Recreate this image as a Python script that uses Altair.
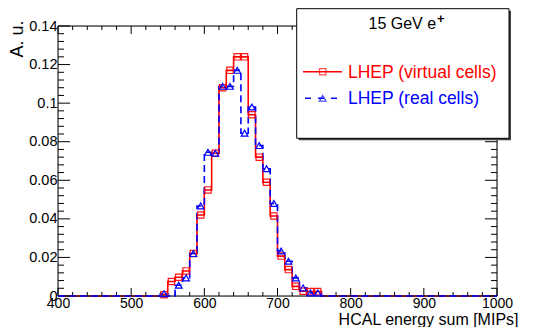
import altair as alt
import pandas as pd

# ---------------- data ----------------
bin_lo = list(range(400, 1000, 10))      # histogram bins, width 10 MIPs
x_last = 1000

red_bins = [540, 550, 560, 570, 580, 590, 600, 610, 620, 630, 640,
            650, 660, 670, 680, 690, 700, 710, 720, 730, 740, 750]
red_vals = [0.0007, 0.0075, 0.0097, 0.013, 0.022, 0.042, 0.055, 0.074, 0.108, 0.117, 0.124,
            0.124, 0.094, 0.072, 0.059, 0.0415, 0.0207, 0.0137, 0.005, 0.0025, 0.0023, 0.0023]

blue_bins = [540, 550, 560, 570, 580, 590, 600, 610, 620, 630, 640,
             650, 660, 670, 680, 690, 700, 710, 720, 730, 740, 750]
blue_vals = [0.0012, 0.0, 0.0056, 0.0094, 0.022, 0.0467, 0.0745, 0.074, 0.1087, 0.1087, 0.117,
             0.0844, 0.098, 0.078, 0.066, 0.048, 0.0233, 0.018, 0.0094, 0.0042, 0.0016, 0.0016]

x_major = [400, 500, 600, 700, 800, 900, 1000]
x_minor = [v for v in range(420, 1000, 20) if v % 100 != 0]
y_major = [0, 0.02, 0.04, 0.06, 0.08, 0.1, 0.12, 0.14]
y_minor = [round(i * 0.004, 3) for i in range(1, 35) if i % 5 != 0]

legend_title = "15 GeV e"
legend_sup = "+"
red_label = "LHEP (virtual cells)"
blue_label = "LHEP (real cells)"
x_title = "HCAL energy sum [MIPs]"
y_title = "A. u."

# ---------------- helpers ----------------
W, H = 439, 270
TOP = 18                      # page y of plot top = 8 + TOP
FONT = "Liberation Sans"
RED = "#ff0000"
BLUE = "#0000ff"


def py(page_y):
    """page y -> plot-relative y"""
    return page_y - 8 - TOP


xs = alt.Scale(domain=[400, 1000], nice=False, zero=False)
ys = alt.Scale(domain=[0, 0.14], nice=False, zero=True)

X_AXIS = alt.Axis(
    values=x_major, format="d", grid=False, domain=False, ticks=False, tickSize=0,
    labelFont=FONT, labelFontSize=14, labelColor="black", labelPadding=0,
    labelFlush=False, labelOverlap=False,
    title=x_title, titleFont=FONT, titleFontSize=16, titleFontWeight="normal",
    titleColor="black", titleX=460, titleY=23, titleAlign="right",
    titleBaseline="middle")
Y_AXIS = alt.Axis(
    values=y_major, format=".2~f", grid=False, domain=False, ticks=False, tickSize=0,
    labelFont=FONT, labelFontSize=14.5, labelColor="black", labelPadding=1,
    labelFlush=False, labelOverlap=False,
    title=y_title, titleFont=FONT, titleFontSize=18, titleFontWeight="normal",
    titleColor="black", titleAngle=270, titleX=-41, titleY=py(20),
    titleAlign="right", titleBaseline="middle")


def X(f):
    return alt.X(f, scale=xs, axis=X_AXIS)


def Y(f):
    return alt.Y(f, scale=ys, axis=Y_AXIS)


def step_frame(bins, vals):
    d = dict(zip(bins, vals))
    yv = [d.get(b, 0.0) for b in bin_lo]
    return pd.DataFrame({"x": bin_lo + [x_last], "y": yv + [yv[-1]]})


def marker_frame(bins, vals):
    return pd.DataFrame({"x": [b + 5 for b, v in zip(bins, vals) if v > 0],
                         "y": [v for v in vals if v > 0]})


one = pd.DataFrame({"k": [0]})

# frame
frame = alt.Chart(one).mark_rect(fillOpacity=0, stroke="black", strokeWidth=1).encode(
    x=alt.value(0), x2=alt.value(W), y=alt.value(0), y2=alt.value(H))

# ticks (inside, on all four sides)
xM = pd.DataFrame({"x": x_major})
xm = pd.DataFrame({"x": x_minor})
yM = pd.DataFrame({"y": y_major})
ym = pd.DataFrame({"y": y_minor})


def xticks(df, y0, y1):
    return alt.Chart(df).mark_rule(color="black", strokeWidth=1).encode(
        x=X("x:Q"), y=alt.value(y0), y2=alt.value(y1))


def yticks(df, x0, x1):
    return alt.Chart(df).mark_rule(color="black", strokeWidth=1).encode(
        y=Y("y:Q"), x=alt.value(x0), x2=alt.value(x1))


ticks = [
    xticks(xM, H, H - 8), xticks(xm, H, H - 4),
    xticks(xM, 0, 8), xticks(xm, 0, 4),
    yticks(yM, 0, 12), yticks(ym, 0, 6),
    yticks(yM, W, W - 12), yticks(ym, W, W - 6),
]

# histograms
red_line = alt.Chart(step_frame(red_bins, red_vals)).mark_line(
    interpolate="step-after", color=RED, strokeWidth=1.6).encode(x=X("x:Q"), y=Y("y:Q"))

blue_line = alt.Chart(step_frame(blue_bins, blue_vals)).mark_line(
    interpolate="step-after", color=BLUE, strokeWidth=1.6, strokeDash=[7, 4]).encode(
    x=X("x:Q"), y=Y("y:Q"))

red_pts = alt.Chart(marker_frame(red_bins, red_vals)).mark_point(
    shape="square", filled=False, color=RED, size=40, strokeWidth=1.2, opacity=0.9).encode(
    x=X("x:Q"), y=Y("y:Q"))

blue_pts = alt.Chart(marker_frame(blue_bins, blue_vals)).mark_point(
    shape="triangle-up", filled=False, color=BLUE, size=45, strokeWidth=1.2, opacity=1).encode(
    x=X("x:Q"), y=Y("y:Q"))

# legend box (page coordinates converted to plot-relative)
LX0, LX1 = 238.7, 451
LY0, LY1 = py(8.7), py(138.3)
shadow = alt.Chart(one).mark_rect(fill="#444444").encode(
    x=alt.value(LX0 + 2), x2=alt.value(LX1 + 2), y=alt.value(LY0 + 2), y2=alt.value(LY1 + 2))
box = alt.Chart(one).mark_rect(fill="white", stroke="black", strokeWidth=1).encode(
    x=alt.value(LX0), x2=alt.value(LX1), y=alt.value(LY0), y2=alt.value(LY1))

t_title = alt.Chart(one).mark_text(text=legend_title, font=FONT, fontSize=16, align="left",
                                   baseline="middle", color="black").encode(
    x=alt.value(310.5), y=alt.value(py(24)))
t_sup = alt.Chart(one).mark_text(text=legend_sup, font=FONT, fontSize=13, fontWeight="bold",
                                 align="left", baseline="middle", color="black").encode(
    x=alt.value(379), y=alt.value(py(18.5)))

leg_red_line = alt.Chart(one).mark_rule(color=RED, strokeWidth=1.6).encode(
    x=alt.value(245), x2=alt.value(284), y=alt.value(py(71.7)))
leg_red_pt = alt.Chart(one).mark_point(shape="square", filled=False, color=RED, size=40,
                                       strokeWidth=1.2).encode(x=alt.value(264.7), y=alt.value(py(71.7)))
leg_red_txt = alt.Chart(one).mark_text(text=red_label, font=FONT, fontSize=17.5, align="left",
                                       baseline="middle", color=RED).encode(
    x=alt.value(290), y=alt.value(py(72.5)))

leg_blue_line = alt.Chart(one).mark_rule(color=BLUE, strokeWidth=1.6, strokeDash=[6, 7]).encode(
    x=alt.value(247), x2=alt.value(284), y=alt.value(py(98.3)))
leg_blue_pt = alt.Chart(one).mark_point(shape="triangle-up", filled=False, color=BLUE, size=45,
                                        strokeWidth=1.2).encode(x=alt.value(264.7), y=alt.value(py(98.3)))
leg_blue_txt = alt.Chart(one).mark_text(text=blue_label, font=FONT, fontSize=17.5, align="left",
                                        baseline="middle", color=BLUE).encode(
    x=alt.value(290), y=alt.value(py(98.8)))

chart = alt.layer(
    red_line, frame, *ticks, blue_line, red_pts, blue_pts,
    shadow, box, t_title, t_sup,
    leg_red_line, leg_red_pt, leg_red_txt,
    leg_blue_line, leg_blue_pt, leg_blue_txt,
).properties(
    width=W, height=H,
    autosize=alt.AutoSizeParams(type="none"),
    padding={"left": 50, "top": TOP, "right": 30, "bottom": 319 - TOP - H},
).configure_view(stroke=None).configure(background="white")

chart.save("out.html", embed_options={"renderer": "svg", "actions": False})
